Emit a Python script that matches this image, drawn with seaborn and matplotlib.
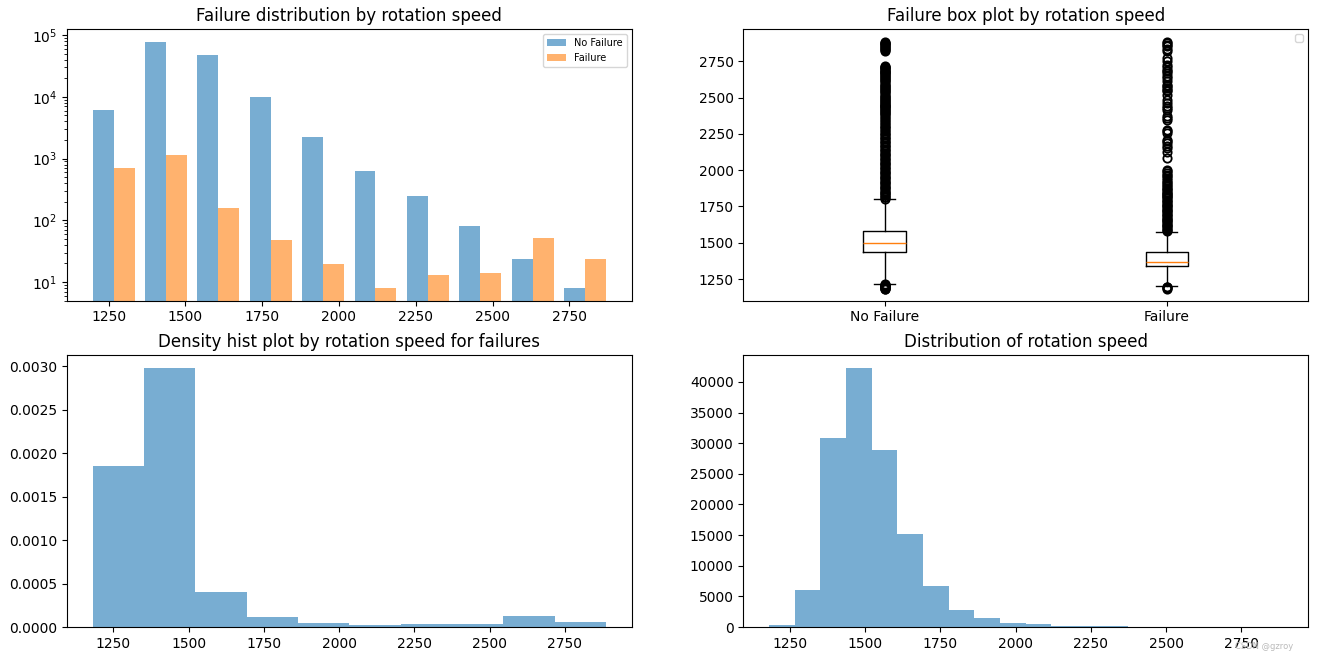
import numpy as np
import pandas as pd
import matplotlib
matplotlib.use("Agg")
import matplotlib.pyplot as plt
import seaborn as sns

# ── Data ──────────────────────────────────────────────────────────────────────
rpm_min, rpm_max = 1181, 2886

# 10-bin counts (log plot, top-left)
no_failure_counts = [6170, 77100, 47600, 10000, 2265, 640, 244, 80, 23.5, 8]
failure_counts = [716, 1161, 156, 47.6, 19.5, 8, 13, 14, 51, 23.5]

# 10-bin density of failures (bottom-left)
failure_density = [0.001849, 0.002975, 0.000402, 0.000115, 0.0000459,
                   0.000023, 0.0000345, 0.0000345, 0.000126, 0.0000574]

# 20-bin counts of all samples (bottom-right)
all_counts = [380, 6100, 30790, 42200, 28940, 15200, 6700, 2780, 1530, 650,
              420, 225, 160, 90, 55, 38, 42, 32, 16, 15]

# box plot summary stats (top-right)
box_labels = ["No Failure", "Failure"]
box_q1 = [1436, 1337]
box_med = [1500, 1367]
box_q3 = [1581, 1436]
box_whislo = [1215, 1202]
box_whishi = [1801, 1576]

nf_fliers = [1181, 1184, 1188, 1190, 1194, 1197, 1199, 1203, 1206, 1208, 1211, 1213,
             1803, 1812, 1818, 1827, 1835, 1842, 1851, 1860, 1868, 1877, 1885, 1894,
             1903, 1911, 1920, 1929, 1937, 1946, 1955, 1963, 1972, 1981, 1990, 1998,
             2007, 2016, 2025, 2033, 2042, 2051, 2060, 2069, 2077, 2086, 2095, 2104,
             2113, 2122, 2131, 2140, 2149, 2158, 2167, 2176, 2185, 2194, 2204, 2213,
             2222, 2232, 2241, 2250, 2260, 2270, 2279, 2288, 2298, 2308, 2318, 2327,
             2337, 2348, 2358, 2369, 2380, 2391, 2396, 2402, 2408, 2414, 2421, 2427,
             2433, 2440, 2446, 2452, 2459, 2466, 2473, 2480, 2486, 2493, 2500, 2507,
             2514, 2521, 2529, 2538, 2545, 2552, 2560, 2569, 2577, 2584, 2590, 2597,
             2605, 2613, 2619, 2626, 2633, 2641, 2648, 2655, 2661, 2668, 2674, 2680,
             2687, 2693, 2699, 2705, 2710, 2714, 2719, 2821, 2828, 2836, 2843, 2849,
             2856, 2862, 2868, 2874, 2880, 2886]
f_fliers = [1181, 1186, 1192, 1197,
            1580, 1589, 1597, 1606, 1614, 1623, 1631, 1640, 1649, 1657, 1666, 1674,
            1683, 1691, 1700, 1709, 1718, 1726, 1735, 1744, 1752, 1761, 1770, 1779,
            1788, 1797, 1806, 1814, 1820, 1829, 1836, 1843, 1852, 1861, 1869, 1877,
            1888, 1900, 1912, 1922, 1934, 1947, 1958, 1969, 1980, 1992, 2003, 2084,
            2128, 2153, 2170, 2187, 2199, 2210, 2256, 2268, 2279, 2348, 2359, 2371,
            2417, 2428, 2440, 2463, 2486, 2520, 2543, 2555, 2566, 2578, 2589, 2612,
            2635, 2652, 2670, 2681, 2693, 2710, 2727, 2750, 2773, 2819, 2836, 2853,
            2865, 2876, 2886]

# ── Figure layout ─────────────────────────────────────────────────────────────
fig, axes = plt.subplots(2, 2, figsize=(13.18, 6.61), dpi=100)
plt.subplots_adjust(left=0.0508, right=0.9924, bottom=0.0514, top=0.956,
                    wspace=0.198, hspace=0.202)

edges10 = np.linspace(rpm_min, rpm_max, 11)
centers10 = (edges10[:-1] + edges10[1:]) / 2
edges20 = np.linspace(rpm_min, rpm_max, 21)
centers20 = (edges20[:-1] + edges20[1:]) / 2

df_fail = pd.DataFrame({"speed": centers10, "density": failure_density})
df_all = pd.DataFrame({"speed": centers20, "count": all_counts})

# ── 1. Failure distribution (log) ─────────────────────────────────────────────
ax = axes[0, 0]
ax.hist([centers10, centers10], bins=edges10,
        weights=[no_failure_counts, failure_counts],
        label=["No Failure", "Failure"], alpha=0.6, log=True)
ax.set_ylim(5, 1.25e5)
ax.legend(loc="upper right", fontsize=7)
ax.set_title("Failure distribution by rotation speed")

# ── 2. Box plot ───────────────────────────────────────────────────────────────
ax = axes[0, 1]
stats = []
for i in range(2):
    stats.append({
        "label": box_labels[i],
        "q1": box_q1[i], "med": box_med[i], "q3": box_q3[i],
        "whislo": box_whislo[i], "whishi": box_whishi[i],
        "fliers": np.array([nf_fliers, f_fliers][i]),
    })
ax.bxp(stats, flierprops={"markeredgewidth": 1.3})
ax.set_ylim(1101, 2973)
ax.legend(fontsize=7)
ax.set_title("Failure box plot by rotation speed")

# ── 3. Density hist for failures ──────────────────────────────────────────────
ax = axes[1, 0]
sns.histplot(data=df_fail, x="speed", weights="density", bins=10,
             binrange=(rpm_min, rpm_max),
             color="C0", alpha=0.6, linewidth=0, ax=ax)
ax.set_xlabel("")
ax.set_ylabel("")
ax.set_title("Density hist plot by rotation speed for failures")

# ── 4. Overall distribution ───────────────────────────────────────────────────
ax = axes[1, 1]
sns.histplot(data=df_all, x="speed", weights="count", bins=20,
             binrange=(rpm_min, rpm_max),
             color="C0", alpha=0.6, linewidth=0, ax=ax)
ax.set_xlabel("")
ax.set_ylabel("")
ax.set_title("Distribution of rotation speed")

for ax in [axes[0, 0], axes[1, 0], axes[1, 1]]:
    ax.set_xticks([1250, 1500, 1750, 2000, 2250, 2500, 2750])

fig.text(0.981, 0.022, "CSDN @gzroy", ha="right", va="center",
         fontsize=6, color="#bbbbbb")

plt.savefig("out.png")
